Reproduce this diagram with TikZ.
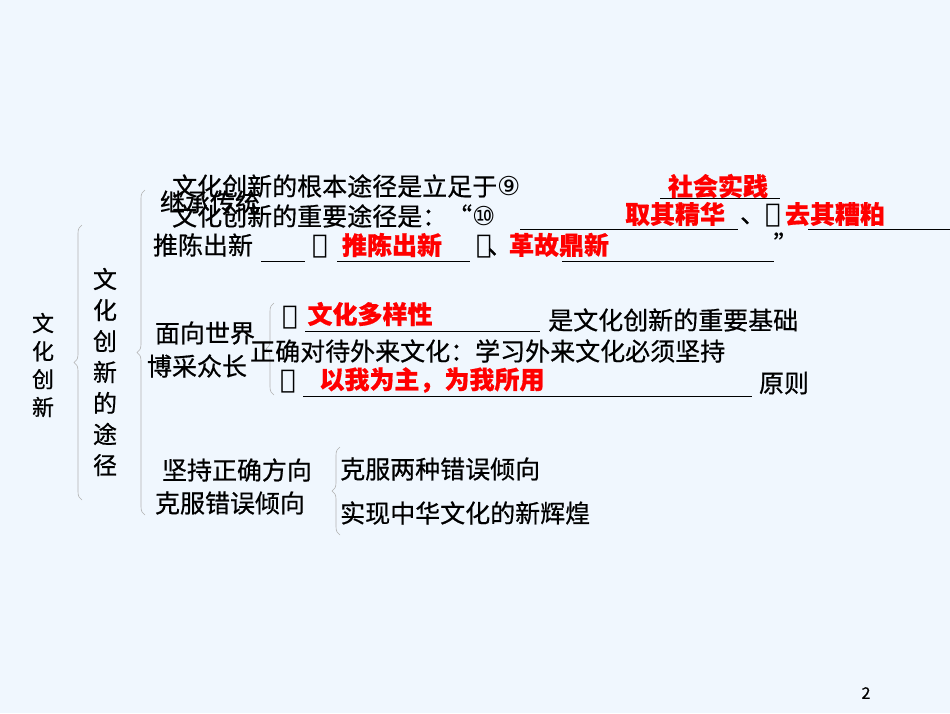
\documentclass[tikz,border=0pt]{standalone}
\usepackage{fontspec}
\setmainfont{Noto Sans CJK SC}[FakeBold=0.6]
\newfontfamily\cfont{DejaVu Sans}
\usetikzlibrary{decorations.pathreplacing}
\newcommand{\cn}[1]{{\cfont\fontsize{26}{26}\selectfont #1}}
\begin{document}
\begin{tikzpicture}[x=1pt,y=-1pt,
  t/.style={inner sep=0pt,font=\fontsize{25}{27}\selectfont},
  r/.style={t,text=red,font=\fontsize{25}{27}\selectfont\bfseries},
  ul/.style={line width=0.8pt},
  br/.style={draw=gray!60,line width=0.6pt,decorate,decoration={brace,amplitude=8pt}}]
\fill[fill={rgb,255:red,240;green,247;blue,254}] (0,0) rectangle (950,713);
\useasboundingbox (0,0) rectangle (950,713);
% left vertical
\node[t,align=center,font=\fontsize{22}{24}\selectfont] (a) at (43,365) {文\\[4pt]化\\[4pt]创\\[4pt]新};
\draw[br] (82,500) coordinate (b1e) -- (82,225) coordinate (b1s);
\node[t,align=center,font=\fontsize{24}{26}\selectfont] (b) at (105,372) {文\\[5pt]化\\[5pt]创\\[5pt]新\\[5pt]的\\[5pt]途\\[5pt]径};
\draw[br] (145,515) coordinate (b2e) -- (145,190) coordinate (b2s);
% group 1
\node[t] (g1a) at (210,202) {继承传统};
\node[t] (g1b) at (203,245) {推陈出新};
\node[t,anchor=west] (l1) at (172,186) {文化创新的根本途径是立足于\cn{⑨}};
\draw[ul] (660,198) -- (780,198);
\node[r] (r1) at (718,186) {社会实践};
\node[t,anchor=west] (l2) at (172,216) {文化创新的重要途径是：“\cn{⑩}};
\draw[ul] (520,229) -- (738,229);
\node[r] (r2) at (675,214) {取其精华};
\node[t,anchor=west] (l2b) at (740,216) {、\cn{⑪}};
\node[r] (r3) at (835,214) {去其糟粕};
\draw[ul] (808,229) -- (950,229);
\draw[ul] (261,261) -- (305,261);
\node[t] (c12) at (320,247) {\cn{⑫}};
\draw[ul] (337,261) -- (470,261);
\node[r] (r4) at (392,245) {推陈出新};
\node[t] (c13) at (484,247) {\cn{⑬}};
\node[t] (dun) at (500,252) {、};
\node[r] (r5) at (559,245) {革故鼎新};
\draw[ul] (562,261) -- (774,261);
\node[t] (q) at (786,243) {”};
% group 2
\node[t] (g2a) at (205,333) {面向世界};
\node[t] (g2b) at (197,366) {博采众长};
\draw[br] (274,395) -- (274,303);
\node[t] (c14) at (290,318) {\cn{⑭}};
\node[r] (r6) at (370,314) {文化多样性};
\draw[ul] (305,331) -- (540,331);
\node[t,anchor=west] (l4) at (548,320) {是文化创新的重要基础};
\node[t,anchor=west] (l5) at (250,351) {正确对待外来文化：学习外来文化必须坚持};
\node[t] (c15) at (288,382) {\cn{⑮}};
\node[r] (r7) at (432,380) {以我为主，为我所用};
\draw[ul] (303,396) -- (752,396);
\node[t] (l6) at (784,383) {原则};
% group 3
\node[t] (g3a) at (237,470) {坚持正确方向};
\node[t] (g3b) at (230,503) {克服错误倾向};
\draw[br] (340,535) -- (340,447);
\node[t,anchor=west] (l7) at (340,469) {克服两种错误倾向};
\node[t,anchor=west] (l8) at (340,513) {实现中华文化的新辉煌};
\node[inner sep=0pt,font=\rmfamily\fontsize{16}{18}\selectfont] (pg) at (866,693) {2};
\end{tikzpicture}
\end{document}
